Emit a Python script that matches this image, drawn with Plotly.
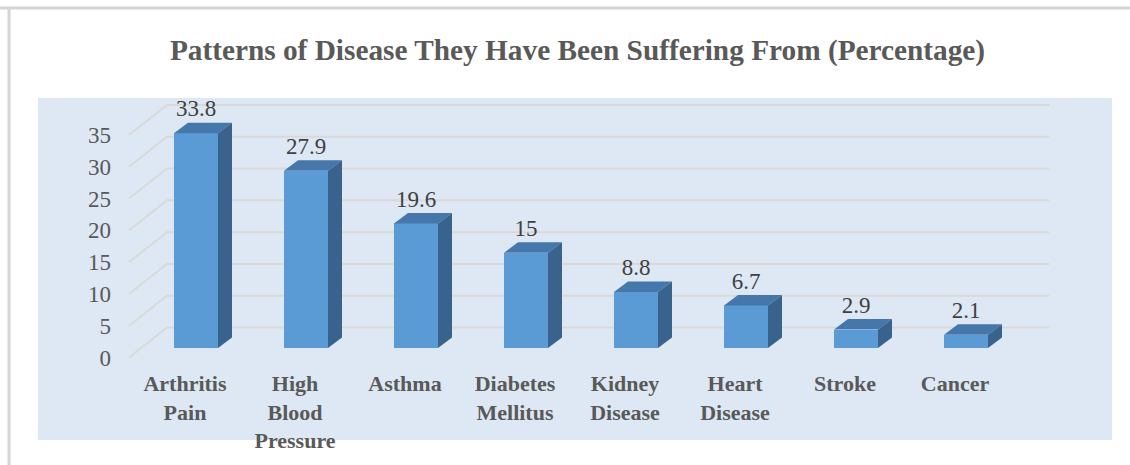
import plotly.graph_objects as go

# ---- data ----
categories = ["Arthritis<br>Pain", "High<br>Blood<br>Pressure", "Asthma", "Diabetes<br>Mellitus",
              "Kidney<br>Disease", "Heart<br>Disease", "Stroke", "Cancer"]
values = [33.8, 27.9, 19.6, 15, 8.8, 6.7, 2.9, 2.1]
y_ticks = [0, 5, 10, 15, 20, 25, 30, 35]
title_text = "Patterns of Disease They Have Been Suffering From (Percentage)"

# ---- layout geometry (pixels) ----
W, H = 1130, 465
PL, PR, PT, PB = 126, 1060, 92, 362
X0PX, XSTEP = 185.0, 110.0
Y0PX, YSCALE = 357.5, 6.357

xr = [(PL - X0PX) / XSTEP, (PR - X0PX) / XSTEP]
yr = [(Y0PX - PB) / YSCALE, (Y0PX - PT) / YSCALE]

bar_shift = 11 / XSTEP
bar_w = 44 / XSTEP
bar_base = 9.5 / YSCALE
depth_dx = 14 / XSTEP
depth_dy = 10.5 / YSCALE
wall_dx = 38 / XSTEP
wall_dy = 30 / YSCALE
grid_start = (129 - X0PX) / XSTEP
grid_end = (1049 - X0PX) / XSTEP
label_gap = 12 / YSCALE

FRONT = "#5B9BD5"
TOP = "#4677AA"
SIDE = "#39638D"
GRID = "#D9D9D9"
TXT = "#595959"
SERIF = "Liberation Serif"

fig = go.Figure()

xs = [i + bar_shift for i in range(len(values))]

# front faces
fig.add_trace(go.Bar(x=xs, y=values, base=bar_base, width=bar_w,
                     marker=dict(color=FRONT, line=dict(width=0)), showlegend=False))

# top and side faces
for xc, v in zip(xs, values):
    x0, x1 = xc - bar_w / 2, xc + bar_w / 2
    top = v + bar_base
    fig.add_trace(go.Scatter(
        x=[x0, x1, x1 + depth_dx, x0 + depth_dx, x0],
        y=[top, top, top + depth_dy, top + depth_dy, top],
        mode="lines", fill="toself", fillcolor=TOP, line=dict(width=0, color=TOP),
        hoverinfo="skip", showlegend=False))
    fig.add_trace(go.Scatter(
        x=[x1, x1 + depth_dx, x1 + depth_dx, x1, x1],
        y=[bar_base, bar_base + depth_dy, top + depth_dy, top, bar_base],
        mode="lines", fill="toself", fillcolor=SIDE, line=dict(width=0, color=SIDE),
        hoverinfo="skip", showlegend=False))

# data labels
fig.add_trace(go.Scatter(
    x=xs, y=[v + bar_base + depth_dy + label_gap for v in values],
    mode="text", text=[f"{v:g}" for v in values], textposition="middle center",
    textfont=dict(family=SERIF, size=23, color="#404040"),
    cliponaxis=False, hoverinfo="skip", showlegend=False))

def px_x(p):
    return (p - PL) / (PR - PL)

def px_y(p):
    return (PB - p) / (PB - PT)

shapes = [
    dict(type="rect", xref="paper", yref="paper", x0=px_x(38), x1=px_x(1112), y0=px_y(440), y1=px_y(98),
         fillcolor="#DDE8F4", line=dict(width=0), layer="below"),
    dict(type="line", xref="paper", yref="paper", x0=px_x(0), x1=px_x(1130), y0=px_y(8), y1=px_y(8),
         line=dict(color="#D6D6D6", width=3), layer="below"),
    dict(type="line", xref="paper", yref="paper", x0=px_x(9), x1=px_x(9), y0=px_y(8), y1=px_y(465),
         line=dict(color="#D6D6D6", width=3), layer="below"),
]
# gridlines (floor diagonal + back wall horizontal), behind the bars
for t in y_ticks:
    shapes.append(dict(type="path", xref="x", yref="y", layer="below",
                       path=f"M {grid_start},{t} L {grid_start + wall_dx},{t + wall_dy} L {grid_end},{t + wall_dy}",
                       line=dict(color=GRID, width=2)))

fig.update_layout(
    width=W, height=H,
    margin=dict(l=PL, r=W - PR, t=PT, b=H - PB, pad=0),
    paper_bgcolor="white", plot_bgcolor="rgba(0,0,0,0)",
    shapes=shapes,
    title=dict(text="<b>" + title_text + "</b>", x=577.5 / W, xanchor="center",
               y=1 - 50 / H, yanchor="middle", yref="container",
               font=dict(family=SERIF, size=29.3, color=TXT)),
    xaxis=dict(range=xr, tickvals=list(range(len(categories))), ticktext=categories,
               showgrid=False, zeroline=False, showline=False, ticks="",
               tickfont=dict(family=SERIF, size=22, color=TXT, weight="bold"),
               ticklabelstandoff=6, fixedrange=True),
    yaxis=dict(range=yr, tickvals=y_ticks, ticktext=[str(t) for t in y_ticks],
               showgrid=False, zeroline=False, showline=False, ticks="",
               tickfont=dict(family=SERIF, size=23, color=TXT),
               ticklabelstandoff=14, fixedrange=True),
    bargap=0, showlegend=False,
)

fig.write_html("out.html")
